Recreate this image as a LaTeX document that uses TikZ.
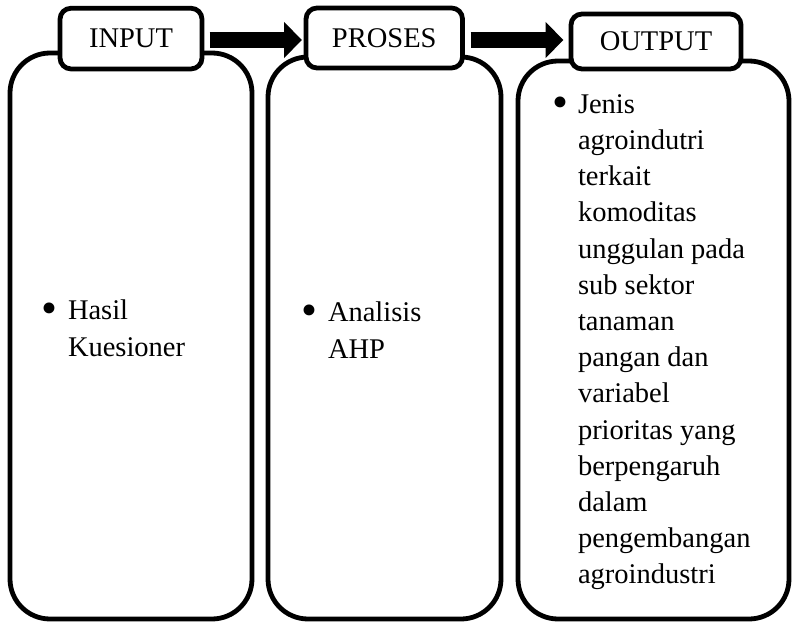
\documentclass[tikz,border=0pt]{standalone}
\usepackage{fontspec}
\setmainfont{Liberation Serif}
\usetikzlibrary{arrows.meta,calc}
\newcommand{\bigbul}{\raisebox{-4.5pt}{\scalebox{1.6}{•}}}
\begin{document}
\begin{tikzpicture}[x=1pt,y=-1pt,
  bigbox/.style={draw=black,line width=4.8pt,rounded corners=40pt,fill=white,inner sep=0pt,outer sep=0pt},
  smallbox/.style={draw=black,line width=4.8pt,rounded corners=11pt,fill=white,inner sep=0pt,outer sep=0pt,
    font=\fontsize{28.5}{34}\selectfont},
  bodytext/.style={inner sep=0pt,outer sep=0pt,align=left,anchor=base west},
  blockarrow/.style={line width=16pt,-{Triangle[length=18pt,width=35pt]}}
]
\useasboundingbox (0,0) rectangle (793,623);
% large boxes
\node[bigbox,minimum width=242pt,minimum height=566pt] (inbig) at (131,336) {};
\node[bigbox,minimum width=233pt,minimum height=562pt] (prbig) at (384.5,338) {};
\node[bigbox,minimum width=271pt,minimum height=558pt] (outbig) at (653.5,340) {};
% small title boxes
\node[smallbox,minimum width=142pt,minimum height=60.7pt] (inbox) at (131,38.6) {INPUT};
\node[smallbox,minimum width=156.5pt,minimum height=60pt] (prbox) at (384.25,38) {PROSES};
\node[smallbox,minimum width=170pt,minimum height=55pt] (outbox) at (656,41.5) {OUTPUT};
% block arrows
\draw[blockarrow] ($(inbox.east)+(7.5,1.4)$) -- ($(prbox.west)+(-4,2)$);
\draw[blockarrow] ($(prbox.east)+(8,2)$) -- ($(outbox.west)+(-7.5,-1.5)$);
% body texts (base anchor = baseline of last line)
\node[bodytext,font=\fontsize{28.5}{37.3}\selectfont] (intext) at (68,356.6)
  {\llap{\bigbul\hspace{11pt}}Hasil\\Kuesioner};
\node[bodytext,font=\fontsize{28.5}{37.3}\selectfont] (prtext) at (328,358.3)
  {\llap{\bigbul\hspace{11pt}}Analisis\\AHP};
\node[bodytext,font=\fontsize{28.5}{36.2}\selectfont] (outtext) at (578,583.9)
  {\llap{\bigbul\hspace{10pt}}Jenis\\agroindutri\\terkait\\komoditas\\unggulan pada\\sub sektor\\tanaman\\pangan dan\\variabel\\prioritas yang\\berpengaruh\\dalam\\pengembangan\\agroindustri};
\end{tikzpicture}
\end{document}
